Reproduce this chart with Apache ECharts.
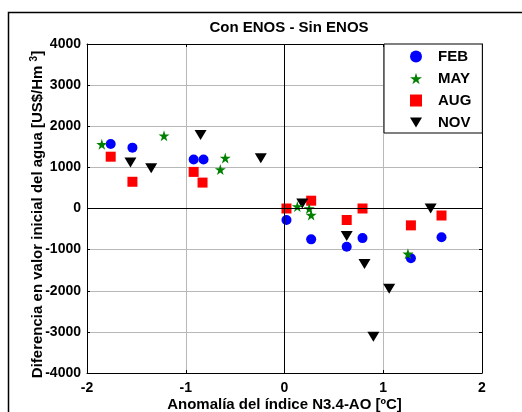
<!DOCTYPE html>
<html>
<head>
<meta charset="utf-8">
<script src="https://cdn.jsdelivr.net/npm/echarts@6/dist/echarts.min.js"></script>
<style>html,body{margin:0;padding:0;background:#fff}#c{width:522px;height:412px}</style>
</head>
<body>
<div id="c"></div>
<script>
// Data
var seriesNames = ['FEB', 'MAY', 'AUG', 'NOV'];
var febData = [[-1.76, 1570], [-1.54, 1480], [-0.92, 1190], [-0.82, 1190], [0.02, -280], [0.27, -750], [0.63, -930], [0.79, -720], [1.28, -1210], [1.59, -700]];
var mayData = [[-1.85, 1560], [-1.22, 1770], [-0.60, 1230], [-0.65, 950], [0.13, 50], [0.25, 0], [0.27, -160], [1.25, -1100]];
var augData = [[-1.76, 1260], [-1.54, 650], [-0.92, 890], [-0.83, 630], [0.02, 0], [0.27, 190], [0.63, -280], [0.79, 0], [1.28, -410], [1.59, -170]];
var novData = [[-1.56, 1120], [-1.35, 980], [-0.85, 1790], [-0.24, 1220], [0.18, 120], [0.63, -670], [0.81, -1350], [1.06, -1950], [0.90, -3120], [1.48, 0]];
var xTicks = [-2, -1, 0, 1, 2];
var yTicks = [-4000, -3000, -2000, -1000, 0, 1000, 2000, 3000, 4000];

var font = 'Liberation Sans, Arial, sans-serif';
var starPath = 'path://M50,0 L61,35 L98,35 L68,57 L79,91 L50,70 L21,91 L32,57 L2,35 L39,35 Z';
var triPath = 'path://M0,0 L12,0 L6,10 Z';

var chart = echarts.init(document.getElementById('c'), null, {renderer: 'canvas'});
var axisCommon = {
  axisLine: {show: true, onZero: false, lineStyle: {color: '#000', width: 1}},
  axisTick: {show: true, inside: true, length: 3, lineStyle: {color: '#000'}},
};
var plain = function (v) { return String(v); };
var option = {
  animation: false,
  backgroundColor: '#fff',
  title: {
    text: 'Con ENOS - Sin ENOS',
    left: 284, top: 15, textAlign: 'center',
    textStyle: {fontFamily: font, fontWeight: 'bold', fontSize: 15, color: '#000'}
  },
  grid: {left: 87, right: 40, top: 44, bottom: 39, containLabel: false, outerBoundsMode: 'none'},
  graphic: [{
    type: 'rect', silent: true, z: -1,
    shape: {x: 8.5, y: 12.5, width: 600, height: 600},
    style: {fill: 'none', stroke: '#000', lineWidth: 1.5}
  }],
  legend: {
    orient: 'vertical', left: 384, top: 44,
    data: seriesNames,
    backgroundColor: '#fff', borderColor: '#000', borderWidth: 1, borderRadius: 0,
    padding: [5, 11, 3, 26], itemGap: 7, itemWidth: 12, itemHeight: 12,
    textStyle: {fontFamily: font, fontWeight: 'bold', fontSize: 15, lineHeight: 15, color: '#000', padding: [0, 0, 0, 11]}
  },
  xAxis: [Object.assign({
    type: 'value', min: xTicks[0], max: xTicks[xTicks.length - 1], interval: 1,
    name: 'Anomalía del índice N3.4-AO [ºC]', nameLocation: 'middle', nameGap: 24, nameMoveOverlap: false,
    nameTextStyle: {fontFamily: font, fontWeight: 'bold', fontSize: 15, color: '#000'},
    axisLabel: {fontFamily: font, fontWeight: 'bold', fontSize: 14, color: '#000', margin: 8, formatter: plain},
    splitLine: {show: true, lineStyle: {color: '#b8b8b8', width: 1}}
  }, axisCommon), Object.assign({
    type: 'value', position: 'top', min: xTicks[0], max: xTicks[xTicks.length - 1], interval: 1,
    axisLabel: {show: false}, splitLine: {show: false}
  }, axisCommon)],
  yAxis: [Object.assign({
    type: 'value', min: yTicks[0], max: yTicks[yTicks.length - 1], interval: 1000,
    name: '{a|Diferencia en valor inicial del agua [US$/Hm }{s|3}{a|]}', nameLocation: 'middle', nameGap: 40, nameRotate: 90, nameMoveOverlap: false,
    nameTextStyle: {
      padding: [0, 12, 0, 0],
      rich: {
        a: {fontFamily: font, fontWeight: 'bold', fontSize: 15, color: '#000'},
        s: {fontFamily: font, fontWeight: 'bold', fontSize: 10, color: '#000', verticalAlign: 'top', padding: [0, 0, 8, 0]}
      }
    },
    axisLabel: {fontFamily: font, fontWeight: 'bold', fontSize: 14, color: '#000', margin: 6, formatter: plain},
    splitLine: {show: true, lineStyle: {color: '#b8b8b8', width: 1}}
  }, axisCommon), Object.assign({
    type: 'value', position: 'right', min: yTicks[0], max: yTicks[yTicks.length - 1], interval: 1000,
    axisLabel: {show: false}, splitLine: {show: false}
  }, axisCommon)],
  series: [
    {name: 'FEB', type: 'scatter', data: febData, symbol: 'circle', symbolSize: 10,
     itemStyle: {color: '#0000ff', opacity: 1},
     markLine: {silent: true, symbol: 'none', label: {show: false}, animation: false,
       lineStyle: {color: '#000', type: 'solid', width: 1},
       data: [{xAxis: 0}, {yAxis: 0}]}, z: 3},
    {name: 'MAY', type: 'scatter', data: mayData, symbol: starPath, symbolSize: 11,
     itemStyle: {color: '#008000', opacity: 1}, z: 4},
    {name: 'AUG', type: 'scatter', data: augData, symbol: 'rect', symbolSize: 10,
     itemStyle: {color: '#ff0000', opacity: 1}, z: 3},
    {name: 'NOV', type: 'scatter', data: novData, symbol: triPath, symbolSize: [12, 10],
     itemStyle: {color: '#000', opacity: 1}, z: 3}
  ]
};
chart.setOption(option);
</script>
</body>
</html>
